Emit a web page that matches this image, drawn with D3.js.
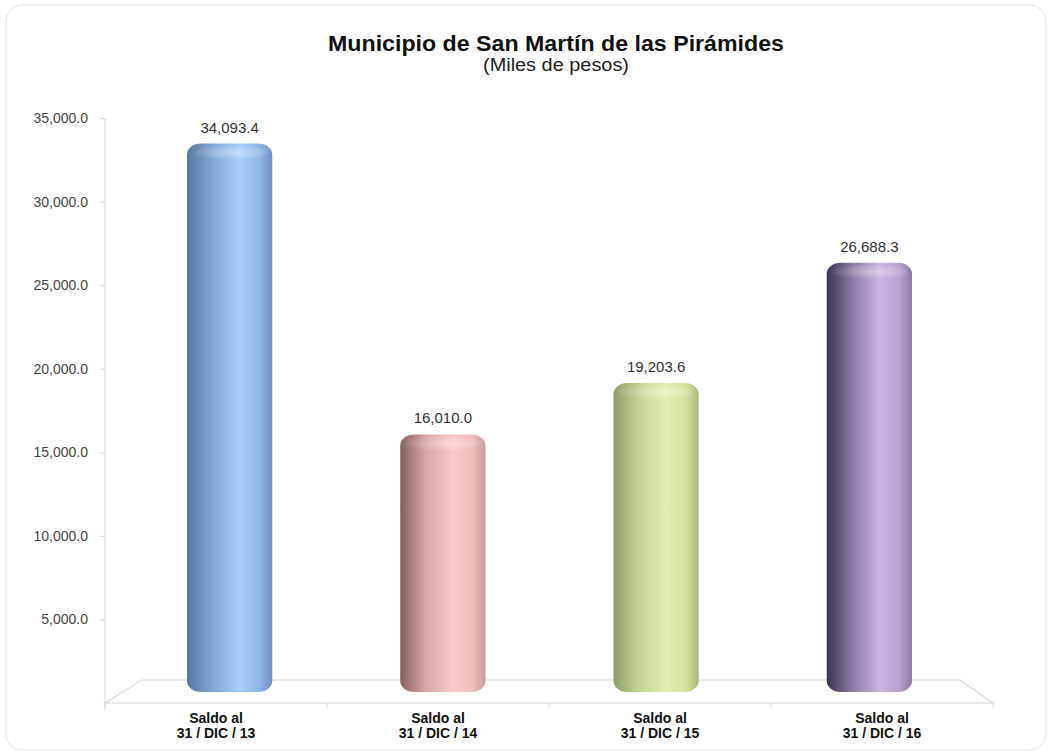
<!DOCTYPE html>
<html>
<head>
<meta charset="utf-8">
<script src="https://cdn.jsdelivr.net/npm/d3@7"></script>
<style>
  body { margin: 0; background: #fff; }
  text { font-family: "Liberation Sans", Arial, sans-serif; }
</style>
</head>
<body>
<div id="chart"></div>
<script>
const width = 1050;
const height = 755;

// data
const categories = ["31 / DIC / 13", "31 / DIC / 14", "31 / DIC / 15", "31 / DIC / 16"];
const values = [34093.4, 16010.0, 19203.6, 26688.3];
const yTicks = [5000, 10000, 15000, 20000, 25000, 30000, 35000];
const barColors = [
    ["#56769f", "#82a7d8", "#a9cdf6", "#8fb5e6", "#6d93c6"],
    ["#86605f", "#d8a6a6", "#f8c9c9", "#f0bcbc", "#c99c9c"],
    ["#8f9e66", "#c2d493", "#e0eeb2", "#d2e39e", "#a8b97c"],
    ["#3c3350", "#8a7aa3", "#cab4e0", "#b9a2d1", "#8e7aa6"]
];

const svg = d3.select("#chart").append("svg")
    .attr("width", width)
    .attr("height", height);

// card border
svg.append("rect")
    .attr("x", 6).attr("y", 5)
    .attr("width", 1040).attr("height", 745)
    .attr("rx", 16)
    .attr("fill", "#fff")
    .attr("stroke", "#e2e2e2");

// title
svg.append("text")
    .attr("x", 556).attr("y", 51)
    .attr("text-anchor", "middle")
    .attr("font-size", 22)
    .attr("font-weight", "bold")
    .attr("fill", "#111")
    .attr("textLength", 456)
    .attr("lengthAdjust", "spacingAndGlyphs")
    .text("Municipio de San Martín de las Pirámides");
svg.append("text")
    .attr("x", 556).attr("y", 71)
    .attr("text-anchor", "middle")
    .attr("font-size", 18)
    .attr("fill", "#222")
    .attr("textLength", 146)
    .attr("lengthAdjust", "spacingAndGlyphs")
    .text("(Miles de pesos)");

// front (axis) scale and back-wall (bar) scale
const yAxisScale = d3.scaleLinear().domain([0, 35000]).range([703, 118]);
const yBarScale = d3.scaleLinear().domain([0, 35000]).range([692, 129]);

const xAxisScale = d3.scaleBand().domain(categories).range([105, 993]);
const xBarScale = d3.scaleBand().domain(categories).range([123, 976])
    .paddingInner(0.6).paddingOuter(0.3);

const grey = "#d6d6d6";

// floor
const floor = svg.append("g").attr("fill", "none").attr("stroke", grey).attr("stroke-width", 1.2);
floor.append("path")
    .attr("d", `M105,${yAxisScale(0)} L142,${yAxisScale(0) - 23} L960,${yAxisScale(0) - 23} L993,${yAxisScale(0)} Z`);

// y axis
const yAxis = d3.axisLeft(yAxisScale)
    .tickValues(yTicks)
    .tickSize(5)
    .tickPadding(12)
    .tickFormat(d3.format(",.1f"));
const gy = svg.append("g")
    .attr("transform", "translate(105,0)")
    .call(yAxis);
gy.select(".domain").attr("stroke", grey).attr("d", `M0,${yAxisScale(35000)}V${yAxisScale(0) + 8}`);
gy.selectAll(".tick line").attr("stroke", grey);
gy.selectAll(".tick text")
    .attr("font-size", 14)
    .attr("fill", "#444")
    .attr("font-family", "Liberation Sans, Arial, sans-serif");

// x axis ticks at band boundaries
const xTickPos = categories.map(c => xAxisScale(c)).concat([xAxisScale.range()[1]]);
svg.append("g").selectAll("line")
    .data(xTickPos)
    .enter().append("line")
    .attr("x1", d => d).attr("x2", d => d)
    .attr("y1", yAxisScale(0)).attr("y2", yAxisScale(0) + 5)
    .attr("stroke", grey);

// x labels
const xl = svg.append("g").selectAll("text")
    .data(categories)
    .enter().append("text")
    .attr("x", d => xAxisScale(d) + xAxisScale.bandwidth() / 2)
    .attr("text-anchor", "middle")
    .attr("font-size", 14)
    .attr("font-weight", "bold")
    .attr("fill", "#111");
xl.append("tspan").attr("x", d => xAxisScale(d) + xAxisScale.bandwidth() / 2).attr("y", 723).text("Saldo al");
xl.append("tspan").attr("x", d => xAxisScale(d) + xAxisScale.bandwidth() / 2).attr("y", 738).text(d => d);

// gradients for cylinders
const defs = svg.append("defs");
barColors.forEach((cols, i) => {
    const g = defs.append("linearGradient")
        .attr("id", "grad" + i)
        .attr("x1", "0%").attr("x2", "100%").attr("y1", "0%").attr("y2", "0%");
    const stops = [0, 0.3, 0.62, 0.85, 1];
    cols.forEach((c, j) => g.append("stop").attr("offset", stops[j]).attr("stop-color", c));
    const t = defs.append("radialGradient")
        .attr("id", "top" + i)
        .attr("cx", "55%").attr("cy", "50%").attr("r", "60%");
    t.append("stop").attr("offset", 0).attr("stop-color", "#fff").attr("stop-opacity", 0.35);
    t.append("stop").attr("offset", 1).attr("stop-color", "#fff").attr("stop-opacity", 0);
});

const bw = xBarScale.bandwidth();
const bars = svg.append("g").selectAll("g")
    .data(values)
    .enter().append("g");

bars.append("rect")
    .attr("x", (d, i) => xBarScale(categories[i]))
    .attr("y", d => yBarScale(d))
    .attr("width", bw)
    .attr("height", d => yBarScale(0) - yBarScale(d))
    .attr("rx", 14).attr("ry", 11)
    .attr("fill", (d, i) => `url(#grad${i})`);

// top highlight
bars.append("ellipse")
    .attr("cx", (d, i) => xBarScale(categories[i]) + bw / 2)
    .attr("cy", d => yBarScale(d) + 9)
    .attr("rx", bw / 2 - 4)
    .attr("ry", 7)
    .attr("fill", (d, i) => `url(#top${i})`);

// value labels
bars.append("text")
    .attr("x", (d, i) => xBarScale(categories[i]) + bw / 2)
    .attr("y", d => yBarScale(d) - 11)
    .attr("text-anchor", "middle")
    .attr("font-size", 15)
    .attr("fill", "#333")
    .text(d => d3.format(",.1f")(d));
</script>
</body>
</html>
